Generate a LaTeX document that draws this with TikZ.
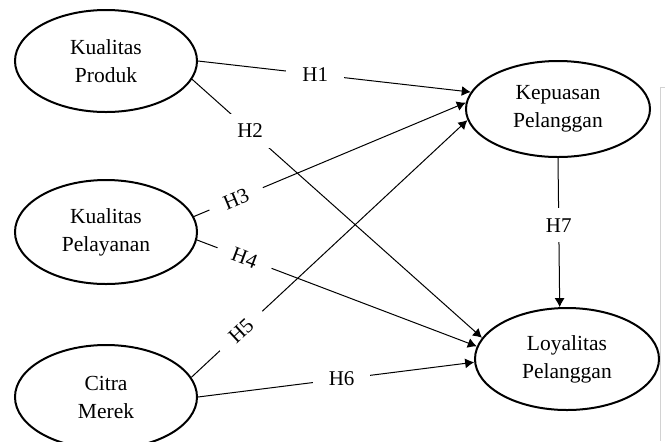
\documentclass[tikz,border=0pt]{standalone}
\usepackage{fontspec}
\setmainfont{Liberation Serif}
\usetikzlibrary{shapes.geometric,arrows.meta}

\begin{document}
\begin{tikzpicture}[x=0.5pt, y=-0.5pt,
  var/.style={ellipse, draw, line width=1pt, inner sep=0pt, align=center,
    font=\fontsize{10.75}{14}\selectfont},
  link/.style={-{Latex[length=4.5pt,width=5pt]}, line width=0.5pt},
  hyp/.style={fill=white, inner xsep=8pt, inner ysep=5pt,
    font=\fontsize{10.5}{12}\selectfont}]
  \useasboundingbox (0,0) rectangle (665,441);
  % variabel bebas (kiri)
  \node[var, minimum width=91pt, minimum height=51pt] (produk) at (106,61) {Kualitas\\Produk};
  \node[var, minimum width=91pt, minimum height=52pt] (layanan) at (106,232) {Kualitas\\Pelayanan};
  \node[var, minimum width=91pt, minimum height=52pt] (merek) at (106,397) {Citra\\Merek};
  % variabel terikat (kanan)
  \node[var, minimum width=92pt, minimum height=48pt] (puas) at (558,109) {Kepuasan\\Pelanggan};
  \node[var, minimum width=92pt, minimum height=51pt] (loyal) at (567,359) {Loyalitas\\Pelanggan};
  % hipotesis
  \draw[link] (produk.east) -- node[hyp, pos=0.43] {H1} (puas.169);
  \draw[link] (produk.-12) -- node[hyp, pos=0.2] {H2} (loyal.166);
  \draw[link] (layanan.10) -- node[hyp, sloped, pos=0.155] {H3} (puas.176);
  \draw[link] (layanan.-5) -- node[hyp, sloped, pos=0.17] {H4} (loyal.172);
  \draw[link] (merek.13) -- node[hyp, sloped, pos=0.18] {H5} (puas.187);
  \draw[link] (merek.east) -- node[hyp, pos=0.52] {H6} (loyal.182);
  \draw[link] (puas.south) -- node[hyp, pos=0.45] {H7} (loyal.98);
  % garis tepi halaman
  \draw[gray!35, line width=0.5pt] (665,87) -- (660,87) -- (660,441);
\end{tikzpicture}
\end{document}
